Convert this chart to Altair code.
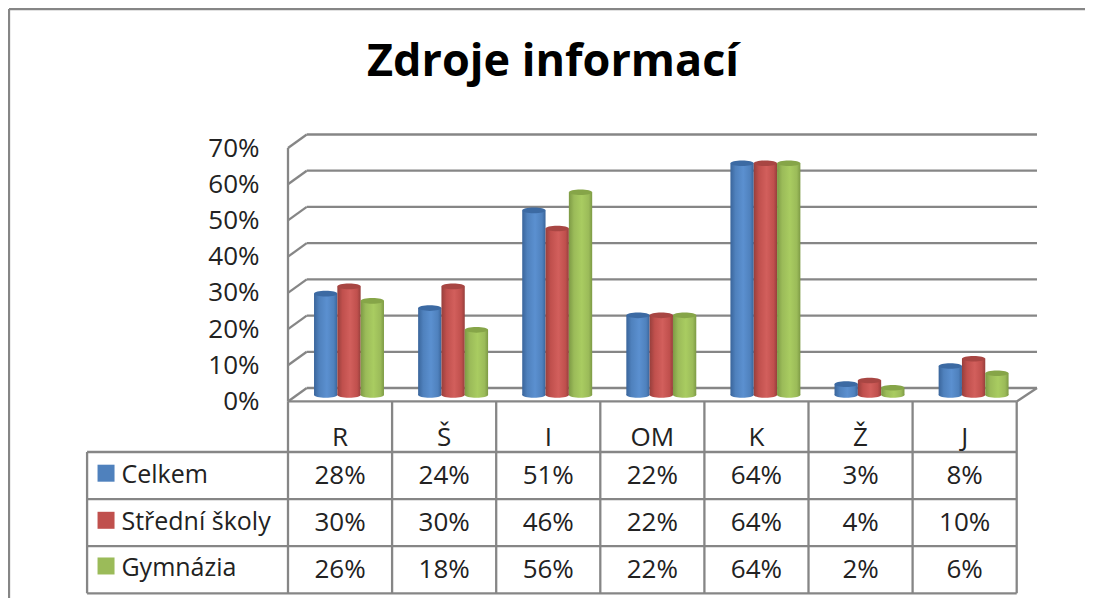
import altair as alt
import pandas as pd

categories = ["R", "Š", "I", "OM", "K", "Ž", "J"]
series_names = ["Celkem", "Střední školy", "Gymnázia"]
celkem = [28, 24, 51, 22, 64, 3, 8]
stredni = [30, 30, 46, 22, 64, 4, 10]
gymnazia = [26, 18, 56, 22, 64, 2, 6]
y_ticks = [0, 10, 20, 30, 40, 50, 60, 70]
title_text = "Zdroje informací"

body_colors = ["#4f81bd", "#c0504d", "#9bbb59"]
edge_dark = ["#3a659b", "#973f3c", "#7d9a45"]
edge_light = ["#5b90d0", "#d25f5c", "#a9cc61"]
cap_colors = ["#3c6aa3", "#a84643", "#86a548"]
grid_color = "#868686"
text_color = "#222222"
font = "Open Sans"

W, H = 1077, 590
DEPTH = 3.73
BACK_L, BACK_R = 0.18, 7.195
LEG_L = -1.93
TOP = -1.074
BAR_W = 0.224
BAR_START = 0.25
ELLIPSE = "M -1 0 A 1 0.24 0 1 0 1 0 A 1 0.24 0 1 0 -1 0 Z"

x_scale = alt.Scale(domain=[0, 7], range=[280, 1008.7])
front_y = alt.Scale(domain=[0, 70], range=[393.5, 140])
bar_y = alt.Scale(domain=[0, 70], range=[387, 133.6])
table_y = alt.Scale(domain=[0, 3], range=[444, 585.3])


def X(f):
    return alt.X(f, type="quantitative", scale=x_scale, axis=None)


def rules(rows, yscale):
    df = pd.DataFrame(rows, columns=["x", "x2", "y", "y2"])
    return alt.Chart(df).mark_rule(color=grid_color, strokeWidth=2.3, clip=False).encode(
        x=X("x"), x2="x2:Q",
        y=alt.Y("y:Q", scale=yscale, axis=None), y2="y2:Q",
    )


edge = alt.Chart(pd.DataFrame({"x": [0], "y": [0], "y2": [70]})).mark_rule(
    color=grid_color, strokeWidth=2.3
).encode(
    x=X("x"),
    y=alt.Y("y:Q", scale=front_y, axis=alt.Axis(
        values=y_ticks, labelExpr="datum.value + '%'", domain=False, ticks=False, grid=False,
        title=None, labelFont=font, labelFontSize=26, labelColor=text_color,
        labelPadding=0, offset=-251,
    )),
    y2="y2:Q",
)

wall = rules(
    [[BACK_L, BACK_R, t + DEPTH, t + DEPTH] for t in y_ticks]
    + [[0, BACK_L, t, t + DEPTH] for t in y_ticks]
    + [[7, BACK_R, 0, DEPTH]],
    front_y,
)


def gradient(i):
    return alt.LinearGradient(
        gradient="linear", x1=0, x2=1, y1=0, y2=0,
        stops=[
            alt.GradientStop(offset=0, color=edge_dark[i]),
            alt.GradientStop(offset=0.22, color=body_colors[i]),
            alt.GradientStop(offset=0.55, color=edge_light[i]),
            alt.GradientStop(offset=0.85, color=body_colors[i]),
            alt.GradientStop(offset=1, color=edge_dark[i]),
        ],
    )


bar_layers = []
for i, (name, values) in enumerate(zip(series_names, [celkem, stredni, gymnazia])):
    df = pd.DataFrame({
        "category": categories,
        "value": values,
        "zero": 0,
        "x0": [k + BAR_START + i * BAR_W for k in range(7)],
        "x1": [k + BAR_START + (i + 1) * BAR_W for k in range(7)],
        "xm": [k + BAR_START + (i + 0.5) * BAR_W for k in range(7)],
    })
    size = (BAR_W * 104.1) ** 2
    base = alt.Chart(df)
    bar_layers.append(base.mark_point(shape=ELLIPSE, size=size, filled=True, fill=gradient(i), opacity=1, strokeWidth=0).encode(
        x=X("xm"), y=alt.Y("zero:Q", scale=bar_y, axis=None)))
    bar_layers.append(base.mark_bar(fill=gradient(i), clip=False).encode(
        x=X("x0"), x2="x1:Q", y=alt.Y("value:Q", scale=bar_y, axis=None), y2="zero:Q"))
    bar_layers.append(base.mark_point(shape=ELLIPSE, size=size, filled=True, fill=cap_colors[i], opacity=1, strokeWidth=0).encode(
        x=X("xm"), y=alt.Y("value:Q", scale=bar_y, axis=None)))

table_lines = rules(
    [[LEG_L, 7, r, r] for r in [0, 1, 2, 3]]
    + [[c, c, TOP, 3] for c in range(8)]
    + [[LEG_L, LEG_L, 0, 3], [0, 7, TOP, TOP]],
    table_y,
)


def text_layer(df, **mk):
    opts = dict(font=font, fontSize=26, color=text_color, baseline="middle", align="center")
    opts.update(mk)
    return alt.Chart(df).mark_text(**opts).encode(
        x=X("x"), y=alt.Y("y:Q", scale=table_y, axis=None), text="t:N")


header = text_layer(pd.DataFrame({"x": [k + 0.5 for k in range(7)], "y": [-0.3] * 7, "t": categories}))
cell_rows = []
for r, values in enumerate([celkem, stredni, gymnazia]):
    for k, v in enumerate(values):
        cell_rows.append({"x": k + 0.5, "y": r + 0.5, "t": f"{v}%"})
cells = text_layer(pd.DataFrame(cell_rows))
legend_rows = [0.48, 1.48, 2.46]
legend_text = text_layer(pd.DataFrame({"x": [-1.6] * 3, "y": legend_rows, "t": series_names}), align="left", fontSize=25)
legend_swatch = alt.Chart(pd.DataFrame({
    "x": [-1.748] * 3, "y": [0.45, 1.45, 2.42], "s": series_names,
})).mark_square(size=289, opacity=1, strokeWidth=0).encode(
    x=X("x"), y=alt.Y("y:Q", scale=table_y, axis=None),
    color=alt.Color("s:N", scale=alt.Scale(domain=series_names, range=body_colors), legend=None),
)

title = alt.Chart(pd.DataFrame({"t": [title_text]})).mark_text(
    font=font, fontSize=45, fontWeight="bold", color="#000000", align="center", baseline="middle",
).encode(x=alt.value(545), y=alt.value(54), text="t:N")

border_h = alt.Chart(pd.DataFrame({"a": [0]})).mark_rule(color=grid_color, strokeWidth=2.3).encode(
    x=alt.value(1), x2=alt.value(W), y=alt.value(1))
border_v = alt.Chart(pd.DataFrame({"a": [0]})).mark_rule(color=grid_color, strokeWidth=2.3).encode(
    x=alt.value(1), y=alt.value(1), y2=alt.value(H))

chart = alt.layer(
    border_h, border_v, edge, wall, *bar_layers, table_lines,
    header, cells, legend_swatch, legend_text, title,
).resolve_scale(y="independent").properties(
    width=W, height=H, padding=0, autosize=alt.AutoSizeParams(type="none"),
).configure_view(stroke=None)

chart.save("out.html", embed_options={"renderer": "svg", "actions": False})
